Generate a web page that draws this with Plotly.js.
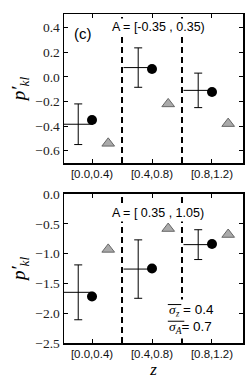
<!DOCTYPE html>
<html>
<head>
<meta charset="utf-8">
<script src="https://cdn.plot.ly/plotly-3.0.1.min.js"></script>
<style>html,body{margin:0;padding:0;background:#fff;}#chart{width:249px;height:387px;}</style>
</head>
<body>
<div id="chart"></div>
<script>
// categories
const categories = ["[0.0,0.4)", "[0.4,0.8)", "[0.8,1.2)"];
const catIndex = [0, 1, 2];
const dividers = [0.5, 1.5];

// panel (c) top: A = [-0.35, 0.35)
const topErrCenter = [-0.385, 0.075, -0.11];
const topErr = [0.165, 0.16, 0.14];
const topCircle = [-0.35, 0.063, -0.123];
const topTriangle = [-0.54, -0.22, -0.38];

// bottom: A = [0.35, 1.05)
const botErrCenter = [-1.65, -1.26, -0.85];
const botErr = [0.46, 0.49, 0.25];
const botCircle = [-1.72, -1.25, -0.84];
const botTriangle = [-0.93, -0.58, -0.68];

const topTicks = [0.4, 0.2, 0.0, -0.2, -0.4, -0.6];
const botTicks = [0.0, -0.5, -1.0, -1.5, -2.0, -2.5];

const errOffset = -0.23, triOffset = 0.27;

function shift(arr, d) { return arr.map(v => v + d); }

function panelTraces(errC, err, circ, tri, xa, ya) {
  return [
    {x: shift(catIndex, errOffset), y: errC, xaxis: xa, yaxis: ya, type: 'scatter', mode: 'markers',
     marker: {symbol: 'line-ew', size: 21, color: 'black', line: {color: 'black', width: 1}},
     error_y: {type: 'data', array: err, visible: true, color: 'black', thickness: 1, width: 4},
     showlegend: false, hoverinfo: 'skip'},
    {x: catIndex, y: circ, xaxis: xa, yaxis: ya, type: 'scatter', mode: 'markers',
     marker: {symbol: 'circle', size: 10, color: 'black'}, showlegend: false},
    {x: shift(catIndex, triOffset), y: tri, xaxis: xa, yaxis: ya, type: 'scatter', mode: 'markers',
     marker: {symbol: 'triangle-up', size: 11, color: '#aaaaaa', line: {color: '#666666', width: 1}}, showlegend: false}
  ];
}

const data = [].concat(
  panelTraces(topErrCenter, topErr, topCircle, topTriangle, 'x', 'y'),
  panelTraces(botErrCenter, botErr, botCircle, botTriangle, 'x2', 'y2')
);

const serif = 'Liberation Serif, serif';
const sans = 'Liberation Sans, Arial, sans-serif';

function xaxis(anchor, withTitle) {
  const ax = {
    anchor: anchor, range: [-0.467, 2.517], tickvals: catIndex, ticktext: categories,
    ticks: 'inside', ticklen: 4, tickwidth: 1, tickcolor: 'black',
    showline: true, linecolor: 'black', linewidth: 1.5, mirror: 'ticks',
    showgrid: false, zeroline: false, fixedrange: true,
    tickfont: {family: sans, size: 11.5, color: '#111'}
  };
  if (withTitle) ax.title = {text: '<i>z</i>', font: {family: serif, size: 17, color: 'black'}, standoff: 2};
  return ax;
}
function yaxis(anchor, domain, range, ticks) {
  return {
    anchor: anchor, domain: domain, range: range, tickvals: ticks, tickformat: '.1f',
    ticks: 'inside', ticklen: 4, tickwidth: 1, tickcolor: 'black',
    showline: true, linecolor: 'black', linewidth: 1.5, mirror: 'ticks',
    showgrid: false, zeroline: false, fixedrange: true,
    tickfont: {family: serif, size: 13.5, color: '#222'},
    title: {text: '<i>p′<sub>kl</sub></i>', font: {family: serif, size: 19, color: 'black'}, standoff: 4}
  };
}

const shapes = [];
[['x', 'y'], ['x2', 'y2']].forEach(([xa, ya]) => {
  dividers.forEach(d => shapes.push({type: 'line', xref: xa, yref: ya + ' domain', x0: d, x1: d, y0: 0, y1: 1,
    line: {color: 'black', width: 2, dash: '6px,4px'}}));
});

const annotations = [
  {xref: 'x domain', yref: 'y domain', x: 0.045, y: 0.87, xanchor: 'left', yanchor: 'middle', showarrow: false,
   text: '(c)', font: {family: sans, size: 15, color: 'black'}},
  {xref: 'x domain', yref: 'y domain', x: 0.257, y: 0.913, xanchor: 'left', yanchor: 'middle', showarrow: false,
   text: 'A = [-0.35 , 0.35)', font: {family: sans, size: 12.5, color: 'black'}, bgcolor: 'white', borderpad: 1},
  {xref: 'x2 domain', yref: 'y2 domain', x: 0.257, y: 0.872, xanchor: 'left', yanchor: 'middle', showarrow: false,
   text: 'A = [ 0.35 , 1.05)', font: {family: sans, size: 12.5, color: 'black'}, bgcolor: 'white', borderpad: 1},
  {xref: 'x2 domain', yref: 'y2 domain', x: 0.572, y: 0.221, xanchor: 'left', yanchor: 'middle', showarrow: false,
   text: '<span style="font-family:Liberation Serif"><i>σ<sub>z</sub></i></span> = 0.4',
   font: {family: sans, size: 13.5, color: 'black'}, bgcolor: 'white', borderpad: 2},
  {xref: 'x2 domain', yref: 'y2 domain', x: 0.572, y: 0.107, xanchor: 'left', yanchor: 'middle', showarrow: false,
   text: '<span style="font-family:Liberation Serif"><i>σ<sub>A</sub></i></span>= 0.7',
   font: {family: sans, size: 13.5, color: 'black'}, bgcolor: 'white', borderpad: 2},
  // overlines of the sigma symbols
  {xref: 'x2 domain', yref: 'y2 domain', x: 0.58, y: 0.258, ax: 15, ay: 0, showarrow: true, arrowhead: 0,
   arrowwidth: 1, arrowcolor: 'black', text: '', standoff: 0, startstandoff: 0},
  {xref: 'x2 domain', yref: 'y2 domain', x: 0.58, y: 0.146, ax: 18, ay: 0, showarrow: true, arrowhead: 0,
   arrowwidth: 1, arrowcolor: 'black', text: '', standoff: 0, startstandoff: 0}
];

const layout = {
  width: 249, height: 387,
  margin: {l: 64, r: 6, t: 14, b: 44},
  paper_bgcolor: 'white', plot_bgcolor: 'white',
  xaxis: xaxis('y', false),
  yaxis: yaxis('x', [0.547, 1], [-0.7, 0.51], topTicks),
  xaxis2: xaxis('y2', true),
  yaxis2: yaxis('x2', [0, 0.453], [-2.5, 0], botTicks),
  shapes: shapes,
  annotations: annotations,
  showlegend: false
};

Plotly.newPlot('chart', data, layout, {displayModeBar: false, staticPlot: true});
</script>
</body>
</html>
